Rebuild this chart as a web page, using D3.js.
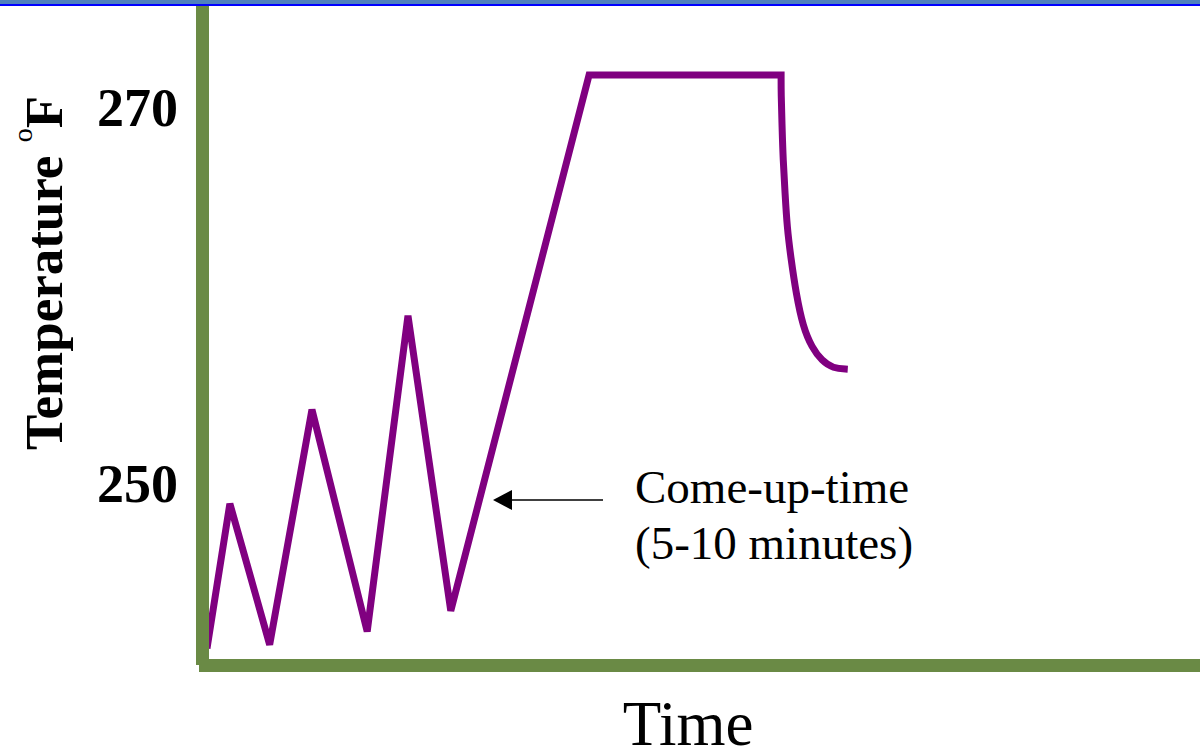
<!DOCTYPE html>
<html>
<head>
<meta charset="utf-8">
<script src="https://cdn.jsdelivr.net/npm/d3@7"></script>
<style>
  body { margin: 0; background: #fff; }
  text { font-family: "Liberation Serif", "Times New Roman", serif; }
</style>
</head>
<body>
<script>
const width = 1200;
const height = 754;

// time (arbitrary units) and temperature (°F)
const rampTime = [0.2, 2.5, 6.5, 10.75, 16.3, 20.4, 24.7, 38.6, 57.9];
const rampTemp = [241.2, 248.9, 241.4, 253.9, 242.1, 258.9, 243.2, 271.7, 271.7];

const coolTime = [57.9, 57.9, 58.0, 58.1, 58.3, 58.5, 58.9, 59.4, 60.1, 61.0, 62.0, 63.1, 64.6, 64.6];
const coolTemp = [271.7, 270.7, 268.9, 267.2, 265.4, 263.6, 261.9, 260.1, 258.3, 257.2, 256.5, 256.1, 256.05, 256.05];

const tickValues = [250, 270];

const svg = d3.select("body").append("svg")
    .attr("width", width)
    .attr("height", height);

const x = d3.scaleLinear().domain([0, 100]).range([205, 1200]);
const y = d3.scaleLinear().domain([250, 270]).range([483, 107]);

// top banner stripes
svg.append("rect").attr("x", 0).attr("y", 0).attr("width", width).attr("height", 4).attr("fill", "#4f81bd");
svg.append("rect").attr("x", 0).attr("y", 4).attr("width", width).attr("height", 2).attr("fill", "#0000ff");

const ramp = rampTime.map((t, i) => [t, rampTemp[i]]);
const cool = coolTime.map((t, i) => [t, coolTemp[i]]);

const line = d3.line().x(d => x(d[0])).y(d => y(d[1]));
const smooth = d3.line().x(d => x(d[0])).y(d => y(d[1])).curve(d3.curveBasis);

// join both pieces into one path so the corner stays square
const d = line(ramp) + smooth(cool).replace(/^M[^A-Za-z]*/, "");

svg.append("path")
    .attr("d", d)
    .attr("fill", "none")
    .attr("stroke", "#800080")
    .attr("stroke-width", 7)
    .attr("stroke-linejoin", "miter")
    .attr("stroke-linecap", "butt");

// axes (thick green bars)
const green = "#6a8a45";
svg.append("line")
    .attr("x1", 202.5).attr("y1", 6).attr("x2", 202.5).attr("y2", 665)
    .attr("stroke", green).attr("stroke-width", 13);
svg.append("line")
    .attr("x1", 199).attr("y1", 665.5).attr("x2", width).attr("y2", 665.5)
    .attr("stroke", green).attr("stroke-width", 13);

// tick labels
svg.selectAll(".tick-label")
    .data(tickValues)
    .enter().append("text")
    .attr("class", "tick-label")
    .attr("x", 97)
    .attr("y", v => y(v))
    .attr("dy", "0.35em")
    .attr("font-size", 54)
    .attr("font-weight", "bold")
    .attr("fill", "#000")
    .text(v => v);

// y title
const ytitle = svg.append("text")
    .attr("transform", "translate(62,450) rotate(-90)")
    .attr("font-size", 53)
    .attr("font-weight", "bold")
    .attr("fill", "#000");
ytitle.append("tspan").text("Temperature ");
ytitle.append("tspan").attr("dy", -30).attr("font-size", 28).attr("font-weight", "normal").text("o");
ytitle.append("tspan").attr("dy", 30).text("F");

// x title
svg.append("text")
    .attr("x", 688)
    .attr("y", 745)
    .attr("text-anchor", "middle")
    .attr("font-size", 63)
    .attr("fill", "#000")
    .text("Time");

// annotation
svg.append("line")
    .attr("x1", 603).attr("y1", 500).attr("x2", 510).attr("y2", 500)
    .attr("stroke", "#000").attr("stroke-width", 1.5);
svg.append("path")
    .attr("d", "M493,500 L512,490 L512,510 Z")
    .attr("fill", "#000");

const note = svg.append("text")
    .attr("x", 635)
    .attr("y", 503)
    .attr("font-size", 47)
    .attr("fill", "#000");
note.append("tspan").attr("x", 635).text("Come-up-time");
note.append("tspan").attr("x", 635).attr("dy", 56).text("(5-10 minutes)");
</script>
</body>
</html>
